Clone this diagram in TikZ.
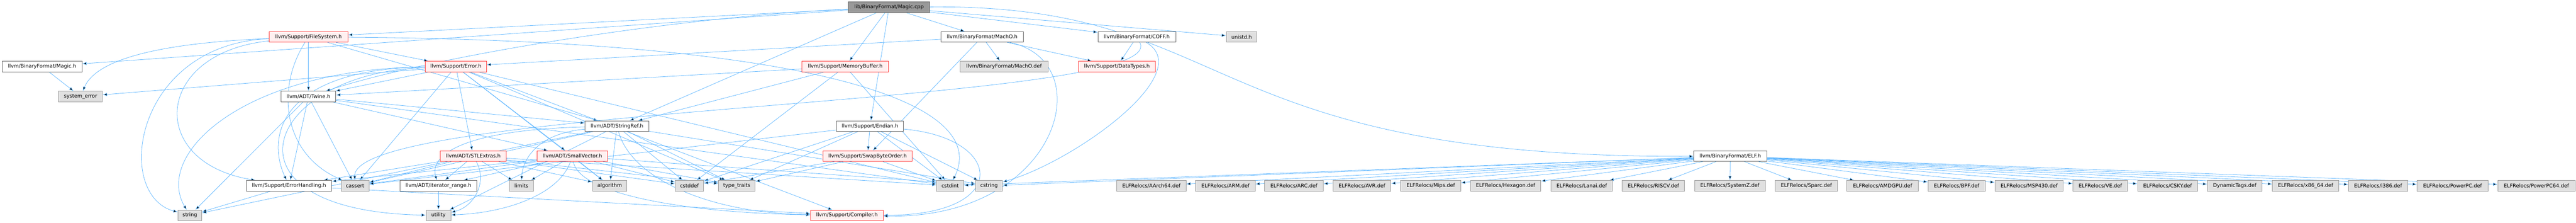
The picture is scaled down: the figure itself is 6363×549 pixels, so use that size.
\documentclass[tikz,border=0pt]{standalone}
\usepackage{fontspec}
\newfontfamily\dotfont{DejaVu Sans}
\usetikzlibrary{arrows.meta,backgrounds}
\definecolor{edgeblue}{RGB}{99,184,255}
\definecolor{hdrline}{RGB}{102,102,102}
\definecolor{sysline}{RGB}{153,153,153}
\definecolor{sysfill}{RGB}{224,224,224}
\definecolor{truncline}{RGB}{255,60,60}
\definecolor{truncfill}{RGB}{255,240,240}
\definecolor{rootfill}{RGB}{153,153,153}

\begin{document}
\begin{tikzpicture}[x=0.75pt,y=-0.75pt,>={Latex[length=8pt,width=6pt]},
  every node/.style={font=\dotfont\fontsize{9.4}{11}\selectfont,draw,rectangle,
    minimum height=19.5pt,inner xsep=2pt,line width=0.9pt},
  boxw/.style={minimum width=#1*0.75pt},
  hdr/.style={draw=hdrline,fill=white},
  trunc/.style={draw=truncline,fill=truncfill},
  sys/.style={draw=sysline,fill=sysfill},
  root/.style={draw=hdrline,fill=rootfill},
  dep/.style={draw=edgeblue,line width=0.75pt},
  bowed/.style 2 args={to path={.. controls #1 and #2 .. (\tikztotarget)}}]
  \useasboundingbox (0,0) rectangle (6363,549);

  % row 0
  \node[root,boxw=201] (magiccpp) at (2196,18) {lib/BinaryFormat/Magic.cpp};
  % row 1
  \node[trunc,boxw=194] (filesystem) at (762,91) {llvm/Support/FileSystem.h};
  \node[hdr,boxw=203] (macho) at (2426,91) {llvm/BinaryFormat/MachO.h};
  \node[hdr,boxw=192] (coff) at (2808,91) {llvm/BinaryFormat/COFF.h};
  \node[sys,boxw=76] (unistd) at (3067,91) {unistd.h};
  % row 2
  \node[hdr,boxw=197] (magich) at (104,164) {llvm/BinaryFormat/Magic.h};
  \node[trunc,boxw=151] (errorh) at (1126,164) {llvm/Support/Error.h};
  \node[trunc,boxw=214] (memorybuffer) at (2088,164) {llvm/Support/MemoryBuffer.h};
  \node[sys,boxw=217] (machodef) at (2480,164) {llvm/BinaryFormat/MachO.def};
  \node[trunc,boxw=190] (datatypes) at (2759,164) {llvm/Support/DataTypes.h};
  % row 3
  \node[sys,boxw=108] (syserror) at (199,238) {system\_error};
  \node[hdr,boxw=135] (twine) at (762,238) {llvm/ADT/Twine.h};
  % row 4
  \node[hdr,boxw=158] (stringref) at (1524,311) {llvm/ADT/StringRef.h};
  \node[hdr,boxw=166] (endian) at (2149,311) {llvm/Support/Endian.h};
  % row 5
  \node[trunc,boxw=162] (stlextras) at (1169,385) {llvm/ADT/STLExtras.h};
  \node[trunc,boxw=174] (smallvector) at (1414,385) {llvm/ADT/SmallVector.h};
  \node[trunc,boxw=221] (swapbyteorder) at (2143,385) {llvm/Support/SwapByteOrder.h};
  \node[hdr,boxw=180] (elf) at (4274,385) {llvm/BinaryFormat/ELF.h};
  % row 6
  \node[hdr,boxw=210] (errorhandling) at (714,458) {llvm/Support/ErrorHandling.h};
  \node[sys,boxw=69] (cassert) at (877,458) {cassert};
  \node[hdr,boxw=190] (iterrange) at (1083,458) {llvm/ADT/iterator\_range.h};
  \node[sys,boxw=59] (limits) at (1288,458) {limits};
  \node[sys,boxw=85] (algorithm) at (1506,458) {algorithm};
  \node[sys,boxw=70] (cstddef) at (1703,458) {cstddef};
  \node[sys,boxw=91] (typetraits) at (1820,458) {type\_traits};
  \node[sys,boxw=67] (cstdint) at (2347,458) {cstdint};
  \node[sys,boxw=66] (cstring) at (2443,458) {cstring};
  \node[sys,boxw=171] (aarch64) at (2844,458) {ELFRelocs/AArch64.def};
  \node[sys,boxw=147] (arm) at (3027,458) {ELFRelocs/ARM.def};
  \node[sys,boxw=145] (arc) at (3196,458) {ELFRelocs/ARC.def};
  \node[sys,boxw=143] (avr) at (3364,458) {ELFRelocs/AVR.def};
  \node[sys,boxw=148] (mips) at (3534,458) {ELFRelocs/Mips.def};
  \node[sys,boxw=174] (hexagon) at (3719,458) {ELFRelocs/Hexagon.def};
  \node[sys,boxw=152] (lanai) at (3907,458) {ELFRelocs/Lanai.def};
  \node[sys,boxw=154] (riscv) at (4084,458) {ELFRelocs/RISCV.def};
  \node[sys,boxw=175] (systemz) at (4273,458) {ELFRelocs/SystemZ.def};
  \node[sys,boxw=154] (sparc) at (4462,458) {ELFRelocs/Sparc.def};
  \node[sys,boxw=177] (amdgpu) at (4650,458) {ELFRelocs/AMDGPU.def};
  \node[sys,boxw=141] (bpf) at (4833,458) {ELFRelocs/BPF.def};
  \node[sys,boxw=169] (msp430) at (5012,458) {ELFRelocs/MSP430.def};
  \node[sys,boxw=135] (ve) at (5188,458) {ELFRelocs/VE.def};
  \node[sys,boxw=148] (csky) at (5354,458) {ELFRelocs/CSKY.def};
  \node[sys,boxw=135] (dyntags) at (5520,458) {DynamicTags.def};
  \node[sys,boxw=164] (xeightysix) at (5695,458) {ELFRelocs/x86\_64.def};
  \node[sys,boxw=146] (ithreeeightysix) at (5874,458) {ELFRelocs/i386.def};
  \node[sys,boxw=175] (powerpc) at (6058,458) {ELFRelocs/PowerPC.def};
  \node[sys,boxw=191] (powerpcsixtyfour) at (6265,458) {ELFRelocs/PowerPC64.def};
  % row 7
  \node[sys,boxw=59] (string) at (469,531) {string};
  \node[sys,boxw=61] (utility) at (1083,531) {utility};
  \node[trunc,boxw=179] (compiler) at (2092,531) {llvm/Support/Compiler.h};

  \begin{scope}[on background layer]
  \path[->,dep]
  (magiccpp) edge (magich)
  (magiccpp) edge (filesystem)
  (magiccpp) edge [bowed={(1700,40)}{(1100,130)}] (twine)
  (magiccpp) edge (stringref)
  (magiccpp) edge (memorybuffer)
  (magiccpp) edge (endian)
  (magiccpp) edge (macho)
  (magiccpp) edge (coff)
  (magiccpp) edge (unistd)
  (magiccpp) edge [bowed={(3060,10)}{(2950,390)}] (elf)
  (magich) edge (syserror)
  (filesystem) edge [bowed={(420,105)}{(240,140)}] (syserror)
  (filesystem) edge [bowed={(330,110)}{(280,480)}] (string)
  (filesystem) edge [bowed={(380,130)}{(360,400)}] (errorhandling)
  (filesystem) edge [bowed={(680,220)}{(700,380)}] (cassert)
  (filesystem) edge (twine)
  (filesystem) edge (errorh)
  (filesystem) edge (stringref)
  (filesystem) edge [bowed={(2000,100)}{(2450,250)}] (cstdint)
  (errorh) edge (syserror)
  (errorh) edge [bowed={(600,170)}{(380,380)}] (string)
  (errorh) edge [bowed={(700,170)}{(655,330)}] (errorhandling)
  (errorh) edge (cassert)
  (errorh) edge (twine)
  (errorh) edge [bowed={(650,180)}{(520,520)}] (utility)
  (errorh) edge (stlextras)
  (errorh) edge (smallvector)
  (errorh) edge (compiler)
  (errorh) edge (cstdint)
  (errorh) edge (typetraits)
  (errorh) edge (algorithm)
  (memorybuffer) edge (twine)
  (memorybuffer) edge (stringref)
  (memorybuffer) edge (cstddef)
  (memorybuffer) edge (cstdint)
  (twine) edge (smallvector)
  (twine) edge (stringref)
  (twine) edge (errorhandling)
  (twine) edge (cassert)
  (twine) edge (cstdint)
  (twine) edge (string)
  (stringref) edge [bowed={(1150,320)}{(1060,380)}] (iterrange)
  (stringref) edge [bowed={(1560,440)}{(1750,525)}] (compiler)
  (stringref) edge (algorithm)
  (stringref) edge (cassert)
  (stringref) edge (cstddef)
  (stringref) edge (cstring)
  (stringref) edge [bowed={(1320,330)}{(1290,400)}] (limits)
  (stringref) edge (string)
  (stringref) edge (typetraits)
  (stringref) edge (utility)
  (endian) edge [bowed={(2480,340)}{(2500,530)}] (compiler)
  (endian) edge (swapbyteorder)
  (endian) edge (cassert)
  (endian) edge (cstddef)
  (endian) edge (cstdint)
  (endian) edge (cstring)
  (endian) edge (typetraits)
  (stlextras) edge (iterrange)
  (stlextras) edge (errorhandling)
  (stlextras) edge (algorithm)
  (stlextras) edge (cassert)
  (stlextras) edge (cstddef)
  (stlextras) edge (cstdint)
  (stlextras) edge (limits)
  (stlextras) edge (typetraits)
  (stlextras) edge [bowed={(1205,450)}{(1170,510)}] (utility)
  (smallvector) edge (iterrange)
  (smallvector) edge [bowed={(1430,480)}{(1700,525)}] (compiler)
  (smallvector) edge (errorhandling)
  (smallvector) edge (algorithm)
  (smallvector) edge (cassert)
  (smallvector) edge (cstddef)
  (smallvector) edge (cstring)
  (smallvector) edge (limits)
  (smallvector) edge (typetraits)
  (smallvector) edge [bowed={(1380,480)}{(1250,525)}] (utility)
  (swapbyteorder) edge (cstddef)
  (swapbyteorder) edge (cstdint)
  (swapbyteorder) edge (typetraits)
  (errorhandling) edge (compiler)
  (errorhandling) edge (string)
  (iterrange) edge (utility)
  (macho) edge (errorh)
  (macho) edge [bowed={(2720,150)}{(2620,540)}] (compiler)
  (macho) edge (datatypes)
  (macho) edge (swapbyteorder)
  (macho) edge (machodef)
  (coff) edge (datatypes)
  (coff) edge [bowed={(2900,260)}{(870,260)}] (cassert)
  (coff) edge [bowed={(2960,180)}{(2650,400)}] (cstring)
  (elf) edge (cstdint)
  (elf) edge (cstring)
  (elf) edge (aarch64)
  (elf) edge (arm)
  (elf) edge (arc)
  (elf) edge (avr)
  (elf) edge (mips)
  (elf) edge (hexagon)
  (elf) edge (lanai)
  (elf) edge (riscv)
  (elf) edge (systemz)
  (elf) edge (sparc)
  (elf) edge (amdgpu)
  (elf) edge (bpf)
  (elf) edge (msp430)
  (elf) edge (ve)
  (elf) edge (csky)
  (elf) edge (dyntags)
  (elf) edge (xeightysix)
  (elf) edge (ithreeeightysix)
  (elf) edge (powerpc)
  (elf) edge (powerpcsixtyfour)
  ;
  \end{scope}
\end{tikzpicture}
\end{document}
